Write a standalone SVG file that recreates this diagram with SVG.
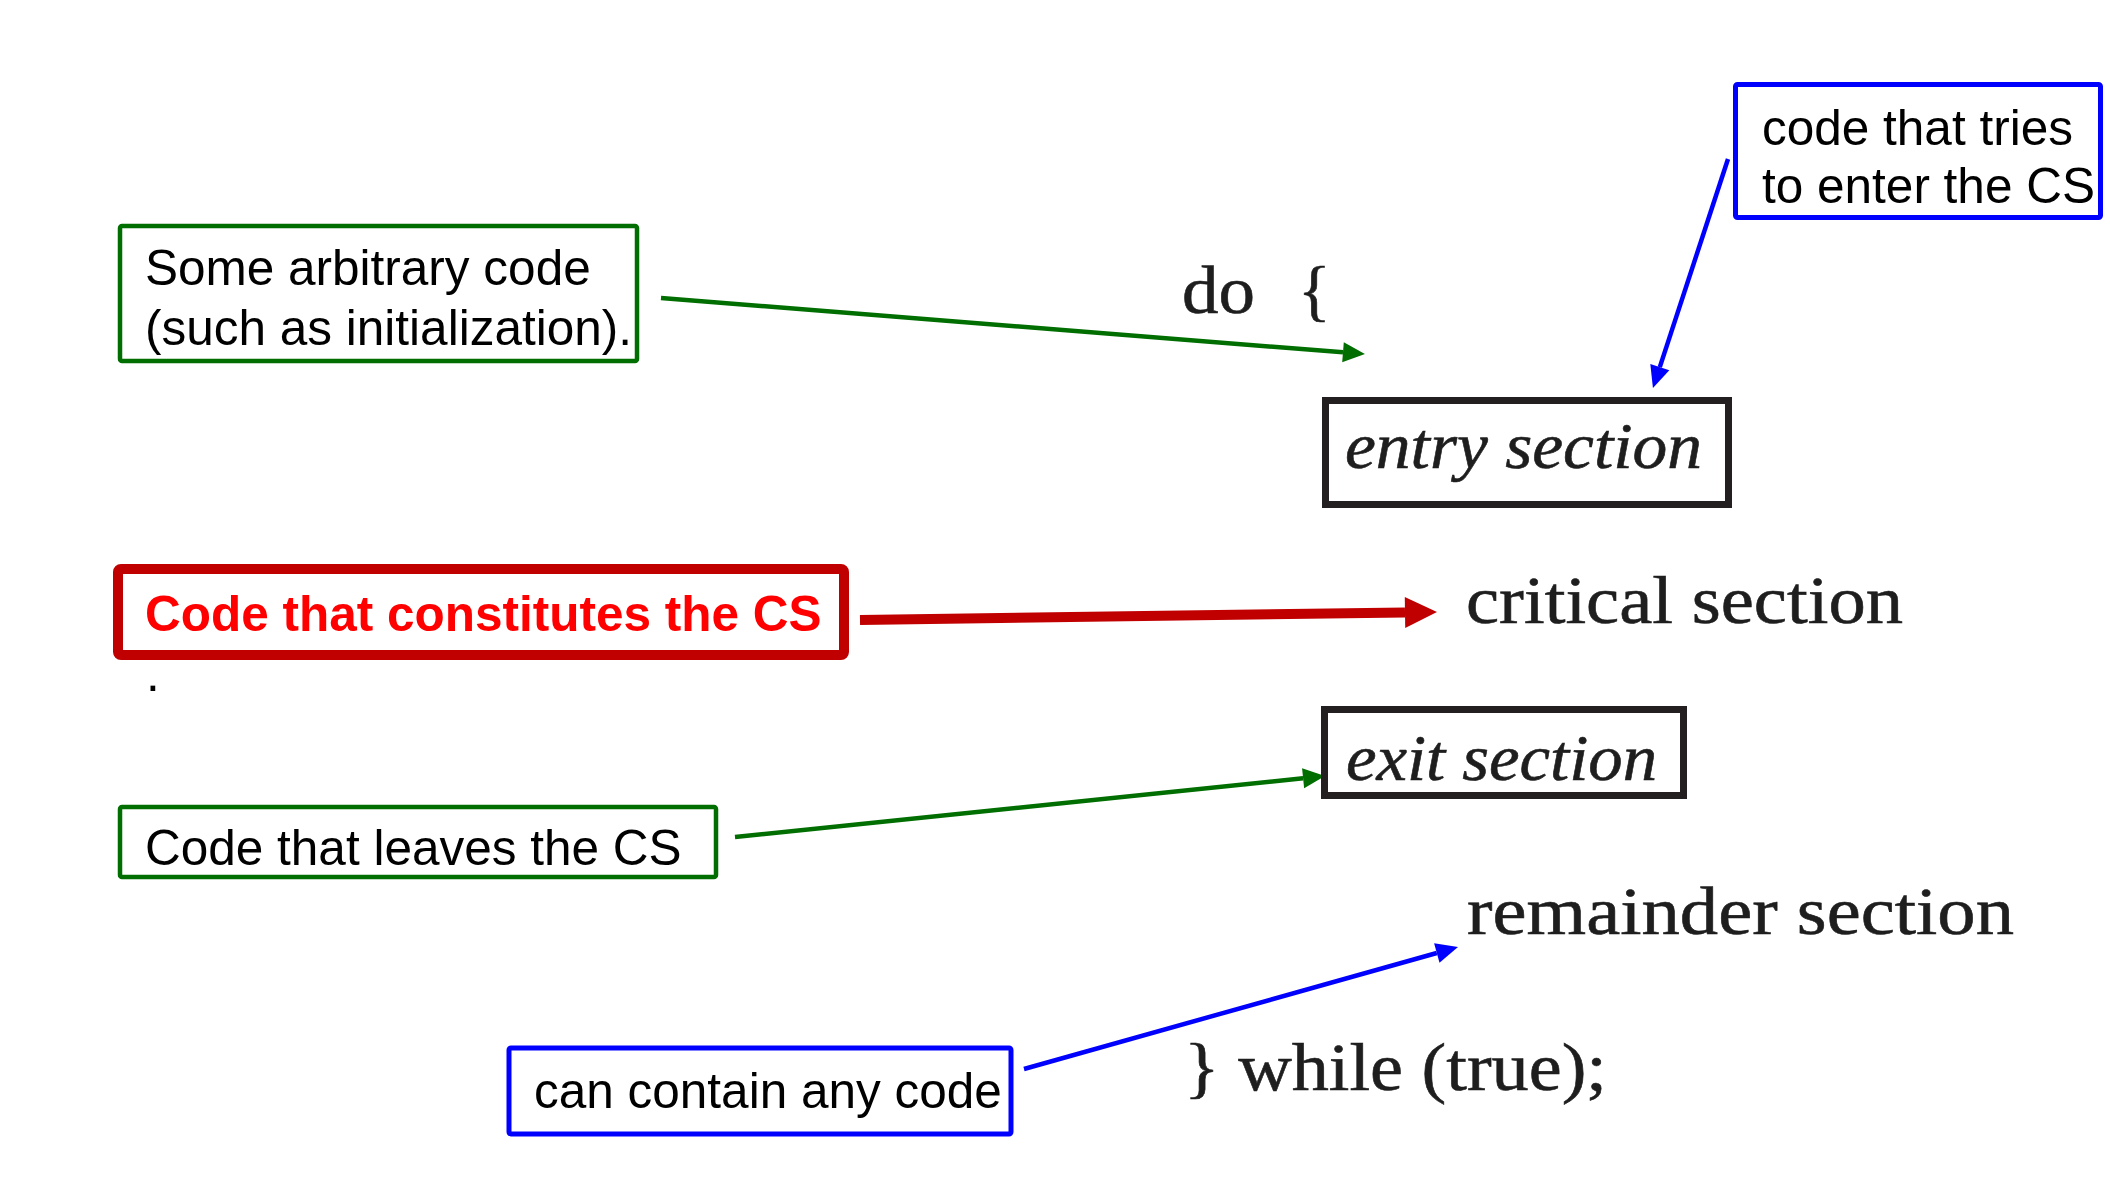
<svg xmlns="http://www.w3.org/2000/svg" width="2110" height="1186" viewBox="0 0 2110 1186">
<style>
.lbl{font-family:"Liberation Sans",Arial,sans-serif;font-size:49.5px;fill:#000}
.red{font-family:"Liberation Sans",Arial,sans-serif;font-size:49.5px;font-weight:bold;fill:#FF0000}
.code{font-family:"Liberation Serif","Times New Roman",serif;font-size:68px;fill:#1e1e1e;stroke:#1e1e1e;stroke-width:0.6}
.ital{font-family:"Liberation Serif","Times New Roman",serif;font-size:65px;font-style:italic;fill:#1e1e1e;stroke:#1e1e1e;stroke-width:0.6}
.gbox{fill:#fff;stroke:#006E00;stroke-width:4.5}
.bbox{fill:#fff;stroke:#0000FF;stroke-width:5}
.rbox{fill:#fff;stroke:#C00000;stroke-width:10}
.kbox{fill:none;stroke:#231f20;stroke-width:7}
.gline{stroke:#006E00;stroke-width:4.5;fill:none}
.bline{stroke:#0000FF;stroke-width:4.5;fill:none}
.rline{stroke:#C00000;stroke-width:10;fill:none}
</style>
<defs>
<marker id="ag" markerUnits="userSpaceOnUse" markerWidth="22" markerHeight="20" refX="0" refY="10" orient="auto" overflow="visible"><path d="M0,0 L22,10 L0,20 z" fill="#006E00"/></marker>
<marker id="ab" markerUnits="userSpaceOnUse" markerWidth="22" markerHeight="20" refX="0" refY="10" orient="auto" overflow="visible"><path d="M0,0 L22,10 L0,20 z" fill="#0000FF"/></marker>
<marker id="ar" markerUnits="userSpaceOnUse" markerWidth="32" markerHeight="31" refX="0" refY="15.5" orient="auto" overflow="visible"><path d="M0,0 L32,15.5 L0,31 z" fill="#C00000"/></marker>
</defs>
<rect width="2110" height="1186" fill="#fff"/>

<g id="connectors">
<line class="gline" x1="661" y1="298" x2="1343" y2="352.3" marker-end="url(#ag)"/>
<line class="bline" x1="1728" y1="159" x2="1659.8" y2="367.1" marker-end="url(#ab)"/>
<line class="rline" x1="860" y1="620" x2="1405" y2="612.4" marker-end="url(#ar)"/>
<line class="gline" x1="735" y1="837" x2="1303.1" y2="778.3" marker-end="url(#ag)"/>
<line class="bline" x1="1024" y1="1069" x2="1436.8" y2="953" marker-end="url(#ab)"/>
</g>

<g id="node-arbitrary">
<rect class="gbox" x="120" y="226" width="517" height="135" rx="2"/>
<text class="lbl" x="145" y="285">Some arbitrary code</text>
<text class="lbl" x="145" y="345">(such as initialization).</text>
</g>

<g id="node-tries">
<rect class="bbox" x="1735.5" y="84.5" width="365" height="133" rx="2"/>
<text class="lbl" x="1762" y="145">code that tries</text>
<text class="lbl" x="1762" y="203">to enter the CS</text>
</g>

<g id="node-constitutes">
<rect class="rbox" x="118" y="569" width="726" height="86" rx="3"/>
<text class="red" x="145" y="631">Code that constitutes the CS</text>
<text class="lbl" x="146" y="691">.</text>
</g>

<g id="node-leaves">
<rect class="gbox" x="120" y="807" width="596" height="70" rx="2"/>
<text class="lbl" x="145" y="865">Code that leaves the CS</text>
</g>

<g id="node-any">
<rect class="bbox" x="509" y="1048" width="502" height="86" rx="2"/>
<text class="lbl" x="534" y="1108">can contain any code</text>
</g>

<g id="node-do">
<text class="code" font-size="64"><tspan x="1182" y="313" textLength="73" lengthAdjust="spacingAndGlyphs">do</tspan><tspan x="1298" y="313">{</tspan></text>
</g>

<g id="node-entry">
<rect class="kbox" x="1325.5" y="400.5" width="403" height="104"/>
<text class="ital" x="1345" y="468" textLength="357" lengthAdjust="spacingAndGlyphs">entry section</text>
</g>

<g id="node-critical">
<text class="code" x="1466" y="623" textLength="437" lengthAdjust="spacingAndGlyphs">critical section</text>
</g>

<g id="node-exit">
<rect class="kbox" x="1324.5" y="709.5" width="359" height="86"/>
<text class="ital" x="1346" y="780" textLength="311" lengthAdjust="spacingAndGlyphs">exit section</text>
</g>

<g id="node-remainder">
<text class="code" x="1467" y="934" textLength="547" lengthAdjust="spacingAndGlyphs">remainder section</text>
</g>

<g id="node-while">
<text class="code" x="1184" y="1090" textLength="423" lengthAdjust="spacingAndGlyphs">} while (true);</text>
</g>
</svg>
